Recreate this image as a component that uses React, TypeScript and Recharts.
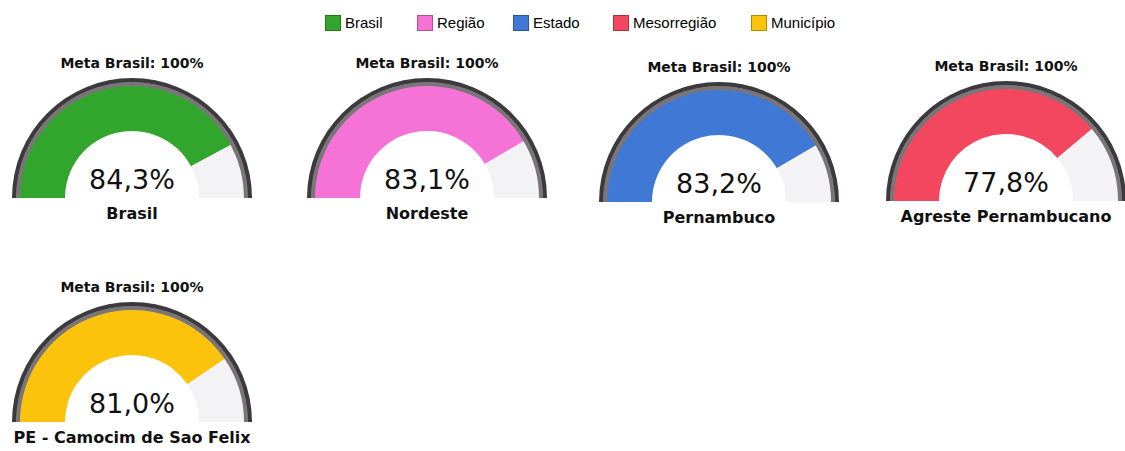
import React from "react";
import { PieChart, Pie, Cell } from "recharts";

// values
const regions = ["Brasil", "Nordeste", "Pernambuco", "Agreste Pernambucano", "PE - Camocim de Sao Felix"];
const coverage = [84.3, 83.1, 83.2, 77.8, 81.0];
const target = 100;
const levelNames = ["Brasil", "Região", "Estado", "Mesorregião", "Município"];
const levelColors = ["#32a62c", "#f573d6", "#3f78d5", "#f2475f", "#fcc30c"];

// gauge centres (bottom middle of each half donut) on the page
const gaugePos = [
  { x: 132, y: 198 },
  { x: 427, y: 198 },
  { x: 719, y: 202 },
  { x: 1006, y: 201 },
  { x: 132, y: 422 },
];
const legendLeft = [325, 417, 513, 613, 751];

const W = 260;
const H = 140;
const CX = 130;
const CY = 128;

const fmt = (v: number) => v.toFixed(1).replace(".", ",") + "%";

const centered: React.CSSProperties = {
  position: "absolute",
  transform: "translate(-50%, -50%)",
  whiteSpace: "nowrap",
  color: "#111",
  fontFamily: "'DejaVu Sans', sans-serif",
  lineHeight: 1,
};

function Gauge({ value, color, name, pos }: { value: number; color: string; name: string; pos: { x: number; y: number } }) {
  const data = [
    { name: "valor", value },
    { name: "resto", value: target - value },
  ];
  return (
    <>
      <div style={{ position: "absolute", left: pos.x - CX, top: pos.y - CY, width: W, height: H }}>
        <PieChart width={W} height={H} margin={{ top: 0, right: 0, bottom: 0, left: 0 }}>
          <Pie
            data={[{ value: 1 }]}
            dataKey="value"
            cx={CX}
            cy={CY}
            startAngle={180}
            endAngle={0}
            innerRadius={115.5}
            outerRadius={120}
            fill="#3c3a3c"
            stroke="none"
            isAnimationActive={false}
          />
          <Pie
            data={[{ value: 1 }]}
            dataKey="value"
            cx={CX}
            cy={CY}
            startAngle={180}
            endAngle={0}
            innerRadius={111.5}
            outerRadius={116}
            fill="#7a7578"
            stroke="none"
            isAnimationActive={false}
          />
          <Pie
            data={data}
            dataKey="value"
            cx={CX}
            cy={CY}
            startAngle={180}
            endAngle={0}
            innerRadius={67}
            outerRadius={112}
            stroke="none"
            isAnimationActive={false}
          >
            <Cell fill={color} />
            <Cell fill="#f3f2f5" />
          </Pie>
        </PieChart>
      </div>
      <div style={{ ...centered, left: pos.x, top: pos.y - 135, fontSize: 14, fontWeight: "bold" }}>
        Meta Brasil: {target}%
      </div>
      <div style={{ ...centered, left: pos.x, top: pos.y - 19, fontSize: 27 }}>{fmt(value)}</div>
      <div style={{ ...centered, left: pos.x, top: pos.y + 16, fontSize: 16, fontWeight: "bold" }}>{name}</div>
    </>
  );
}

export default function App() {
  return (
    <div style={{ position: "absolute", left: 0, top: 0, width: 1125, height: 451, background: "#fff", overflow: "hidden" }}>
      {levelNames.map((n, i) => (
        <div
          key={n}
          style={{
            position: "absolute",
            left: legendLeft[i],
            top: 14,
            display: "flex",
            alignItems: "center",
            fontFamily: "'Liberation Sans', Arial, sans-serif",
            fontSize: 15,
            color: "#000",
          }}
        >
          <span
            style={{
              width: 16,
              height: 16,
              background: levelColors[i],
              border: "1px solid rgba(0,0,0,0.3)",
              boxSizing: "border-box",
              marginRight: 4,
            }}
          />
          {n}
        </div>
      ))}
      {regions.map((r, i) => (
        <Gauge key={r} value={coverage[i]} color={levelColors[i]} name={r} pos={gaugePos[i]} />
      ))}
    </div>
  );
}
